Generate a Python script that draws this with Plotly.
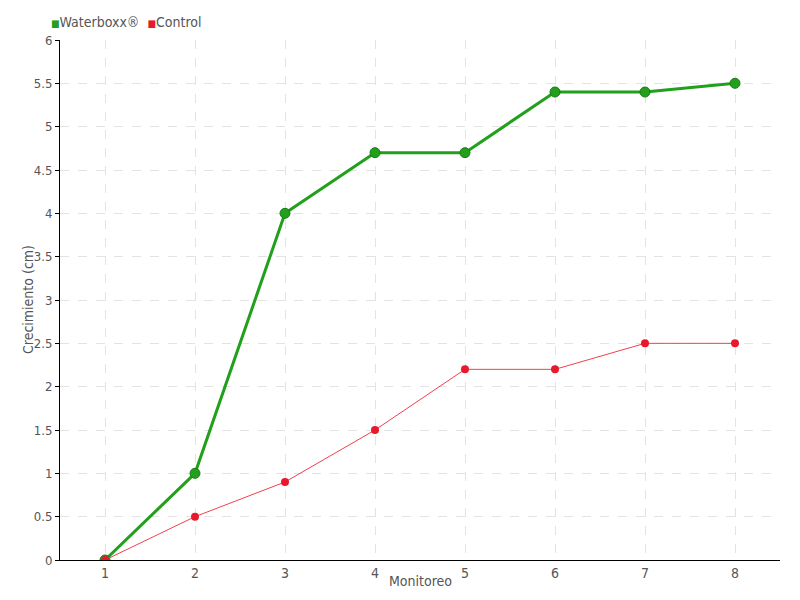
import plotly.graph_objects as go

monitoreo = [1, 2, 3, 4, 5, 6, 7, 8]
waterboxx = [0, 1, 4, 4.7, 4.7, 5.4, 5.4, 5.5]
control = [0, 0.5, 0.9, 1.5, 2.2, 2.2, 2.5, 2.5]
y_ticks = [0, 0.5, 1, 1.5, 2, 2.5, 3, 3.5, 4, 4.5, 5, 5.5, 6]

FONT = "DejaVu Sans Condensed, Liberation Sans Narrow, sans-serif"
GREEN = "#22a01c"
RED = "#e8192c"
TXT = "#555555"

fig = go.Figure()
fig.add_trace(go.Scatter(
    x=monitoreo, y=waterboxx, name="Waterboxx®", mode="lines+markers",
    line=dict(color=GREEN, width=3),
    marker=dict(size=10, color=GREEN, line=dict(color="#1a7a15", width=1)),
))
fig.add_trace(go.Scatter(
    x=monitoreo, y=control, name="Control", mode="lines+markers",
    line=dict(color="#f0404e", width=1),
    marker=dict(size=8, color=RED),
))

# page has an 8px body margin, so the figure is offset by (8, 8)
fig.update_layout(
    width=792, height=592,
    margin=dict(l=52, r=20, t=32, b=40, autoexpand=False),
    paper_bgcolor="white", plot_bgcolor="white",
    font=dict(family=FONT, size=13, color=TXT),
    showlegend=False,
    xaxis=dict(
        range=[0.5, 8.5], tickvals=monitoreo, showgrid=True, automargin=False,
        gridcolor="#e3e3e3", griddash="dash", zeroline=False,
        showline=True, linecolor="black", linewidth=1, ticks="",
        tickfont=dict(size=14),
    ),
    yaxis=dict(
        range=[0, 6], tickvals=y_ticks, showgrid=True, automargin=False,
        gridcolor="#e3e3e3", griddash="dash", zeroline=False,
        showline=True, linecolor="black", linewidth=1,
        ticks="outside", ticklen=4, tickcolor="black",
        tickfont=dict(size=13),
    ),
    annotations=[
        dict(text="Monitoreo", xref="paper", yref="paper", x=0.5, y=0,
             xanchor="center", yanchor="middle", yshift=-21, showarrow=False,
             font=dict(size=14, color=TXT)),
        dict(text="Crecimiento (cm)", xref="paper", yref="paper", x=0, y=0.5,
             xanchor="center", yanchor="middle", xshift=-32, textangle=-90,
             showarrow=False, font=dict(size=14, color=TXT)),
        dict(text=f"<span style='color:{GREEN};font-size:10px'>■</span>Waterboxx®  "
                  f"<span style='color:{RED};font-size:10px'>■</span>Control",
             xref="paper", yref="paper", x=0, y=1, xanchor="left", yanchor="middle",
             xshift=-11, yshift=18, showarrow=False, font=dict(size=14, color=TXT)),
    ],
)
fig.write_html("out.html")
